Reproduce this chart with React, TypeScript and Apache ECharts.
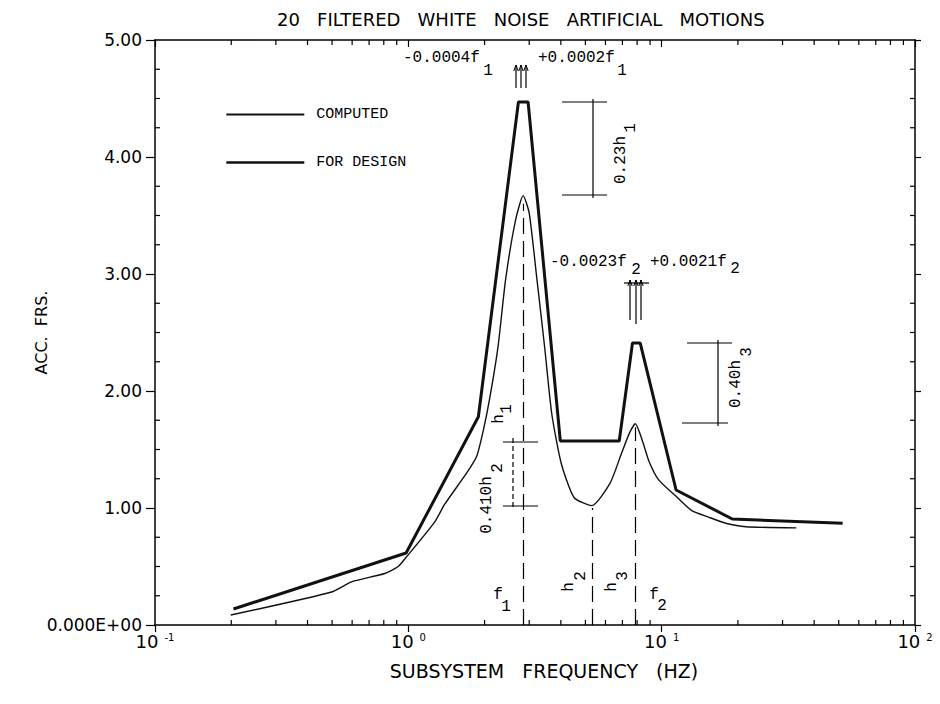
import React, { useEffect, useRef } from "react";
import * as echarts from "echarts";

// ---------- data ----------
const TITLE = "20   FILTERED   WHITE   NOISE   ARTIFICIAL   MOTIONS";
const X_NAME = "SUBSYSTEM   FREQUENCY   (HZ)";
const Y_NAME = "ACC.  FRS.";
const SERIES_NAMES = ["COMPUTED", "FOR DESIGN"];

const computedFreq = [0.199, 0.494, 0.6, 0.807, 0.912, 0.973, 1.27, 1.39, 1.7, 1.86, 1.98, 2.1, 2.26, 2.42, 2.65, 2.84, 3.0, 3.22, 3.45, 3.68, 4.01, 4.51, 5.3, 6.25, 6.95, 7.46, 7.87, 8.38, 8.91, 9.73, 11.4, 13.1, 15.4, 17.9, 21.5, 34.0];
const computedAcc = [0.085, 0.28, 0.37, 0.44, 0.5, 0.57, 0.88, 1.03, 1.3, 1.44, 1.67, 1.95, 2.38, 2.95, 3.46, 3.67, 3.52, 2.95, 2.38, 1.81, 1.385, 1.09, 1.02, 1.21, 1.47, 1.64, 1.72, 1.58, 1.4, 1.24, 1.1, 0.98, 0.92, 0.87, 0.84, 0.83];

const designFreq = [0.204, 0.98, 1.89, 2.72, 2.97, 3.98, 6.8, 7.67, 8.23, 11.4, 19.0, 51.8];
const designAcc = [0.137, 0.615, 1.78, 4.47, 4.47, 1.573, 1.573, 2.41, 2.41, 1.154, 0.906, 0.87];

// reference frequencies (dashed verticals)
const F1 = 2.84;
const F1_TOP = 3.6;
const H2 = 5.3;
const H2_TOP = 1.0;
const F2 = 7.87;
const F2_TOP = 1.69;

const X_MINOR = [0.2, 0.3, 0.4, 0.5, 0.6, 0.7, 0.8, 0.9, 2, 3, 4, 5, 6, 7, 8, 9, 20, 30, 40, 50, 60, 70, 80, 90];
const Y_MINOR = [0.25, 0.5, 0.75, 1.25, 1.5, 1.75, 2.25, 2.5, 2.75, 3.25, 3.5, 3.75, 4.25, 4.5, 4.75];
const X_EDGE = [0.1, 100];
const Y_EDGE = [0, 5];

// ---------- styling ----------
const SANS = "DejaVu Sans";
const MONO = '"Liberation Mono", "Courier New", monospace';
const ANN_FONT = `16px ${MONO}`;
const BLACK = "#000";

function label(text: string, x: number, y: number, align = "center", rotation = 0) {
  return {
    type: "text",
    x,
    y,
    rotation,
    silent: true,
    z: 100,
    style: {
      text,
      font: ANN_FONT,
      fill: BLACK,
      textAlign: align,
      textVerticalAlign: "middle",
      align,
      verticalAlign: "middle",
    },
  };
}
function seg(x1: number, y1: number, x2: number, y2: number, dash?: number[]) {
  return {
    type: "line",
    silent: true,
    z: 100,
    shape: { x1, y1, x2, y2 },
    style: { stroke: BLACK, lineWidth: 1.2, lineDash: dash },
  };
}
function arrowUp(x: number, yTop: number, yBottom: number) {
  return [
    seg(x, yTop, x, yBottom),
    {
      type: "polyline",
      silent: true,
      z: 100,
      shape: { points: [[x - 2.2, yTop + 6], [x, yTop], [x + 2.2, yTop + 6]] },
      style: { stroke: BLACK, lineWidth: 1, fill: null },
    },
  ];
}

const R = Math.PI / 2;
const annotations: any[] = [
  // f1 tolerance
  label("-0.0004f", 403, 58, "left"),
  label("1", 488, 71),
  label("+0.0002f", 538, 58, "left"),
  label("1", 622, 71),
  ...arrowUp(516, 65, 88),
  ...arrowUp(521, 65, 88),
  ...arrowUp(526, 65, 88),
  // f2 tolerance
  label("-0.0023f", 550, 262, "left"),
  label("2", 636, 270),
  label("+0.0021f", 650, 262, "left"),
  label("2", 735, 269),
  seg(624, 283, 649, 283),
  ...arrowUp(630, 280, 320),
  ...arrowUp(636, 280, 324),
  ...arrowUp(641, 280, 320),
  // bracket 0.23h1
  seg(562, 102, 607, 102),
  seg(562, 195, 607, 195),
  seg(593, 99, 593, 198),
  label("0.23h", 621, 160, "center", R),
  label("1", 631, 128, "center", R),
  // bracket 0.40h3
  seg(687, 343, 732, 343),
  seg(682, 423, 728, 423),
  seg(718, 340, 718, 426),
  label("0.40h", 736, 384, "center", R),
  label("3", 747, 352, "center", R),
  // bracket 0.410h2
  seg(503, 442, 538, 442),
  seg(503, 506, 538, 506),
  seg(513, 438, 513, 510, [5, 3]),
  label("0.410h", 487, 505, "center", R),
  label("2", 498, 468, "center", R),
  label("h", 499, 419, "center", R),
  label("1", 507, 409, "center", R),
  // bottom labels
  label("f", 498, 595),
  label("1", 506, 607),
  label("h", 569, 587, "center", R),
  label("2", 581, 576, "center", R),
  label("h", 612, 587, "center", R),
  label("3", 623, 576, "center", R),
  label("f", 654, 595),
  label("2", 662, 606),
];

const axisLine = { show: true, onZero: false, lineStyle: { color: BLACK, width: 1.5 } };

// minor ticks drawn through the axes' own scales
function tickSeries(data: number[][], dx: number, dy: number) {
  return {
    type: "custom",
    data,
    encode: { x: 0, y: 1 },
    clip: false,
    silent: true,
    z: 6,
    renderItem: (_params: any, api: any) => {
      const p = api.coord([api.value(0), api.value(1)]);
      return {
        type: "line",
        shape: { x1: p[0], y1: p[1], x2: p[0] + dx, y2: p[1] + dy },
        style: { stroke: BLACK, lineWidth: 1.2 },
      };
    },
  };
}

const option: any = {
  animation: false,
  backgroundColor: "#fff",
  title: {
    text: TITLE,
    left: 272,
    top: 5,
    textStyle: { fontFamily: SANS, fontSize: 18, fontWeight: "normal", color: BLACK },
  },
  legend: {
    data: [
      { name: SERIES_NAMES[0], lineStyle: { width: 2 } },
      { name: SERIES_NAMES[1], lineStyle: { width: 2.6 } },
    ],
    orient: "vertical",
    left: 220,
    top: 102,
    itemWidth: 78,
    itemHeight: 14,
    itemGap: 33,
    selectedMode: false,
    itemStyle: { color: "rgba(0,0,0,0)", borderColor: "rgba(0,0,0,0)", borderWidth: 0 },
    textStyle: { fontFamily: MONO, fontSize: 15, color: BLACK, padding: [0, 0, 0, 7] },
  },
  grid: { left: 155, right: 25, top: 40, bottom: 79 },
  xAxis: [
    {
      type: "log",
      logBase: 10,
      min: 0.1,
      max: 100,
      position: "bottom",
      axisLine,
      axisTick: { show: true, inside: false, length: 7, lineStyle: { color: BLACK, width: 1.2 } },
      splitLine: { show: false },
      axisLabel: {
        margin: 7,
        formatter: (v: number) => `{b|10}{s|${Math.round(Math.log10(v))}}`,
        rich: {
          b: { fontFamily: SANS, fontSize: 18, lineHeight: 18, color: BLACK, verticalAlign: "bottom" },
          s: { fontFamily: SANS, fontSize: 10, lineHeight: 10, color: BLACK, verticalAlign: "top", padding: [0, 0, 10, 6] },
        },
      },
      name: X_NAME,
      nameLocation: "middle",
      nameGap: 36,
      nameTextStyle: { fontFamily: SANS, fontSize: 19, color: BLACK, padding: [0, 0, 0, 18] },
    },
    {
      type: "log",
      logBase: 10,
      min: 0.1,
      max: 100,
      position: "top",
      axisLine,
      axisTick: { show: true, inside: true, length: 7, lineStyle: { color: BLACK, width: 1.2 } },
      axisLabel: { show: false },
      splitLine: { show: false },
    },
  ],
  yAxis: [
    {
      type: "value",
      min: 0,
      max: 5,
      interval: 1,
      position: "left",
      axisLine,
      axisTick: { show: true, inside: false, length: 9, lineStyle: { color: BLACK, width: 1.2 } },
      splitLine: { show: false },
      axisLabel: {
        margin: 13,
        fontFamily: SANS,
        fontSize: 17,
        color: BLACK,
        formatter: (v: number) => (v === 0 ? "0.000E+00" : v.toFixed(2)),
      },
      name: Y_NAME,
      nameLocation: "middle",
      nameGap: 106,
      nameMoveOverlap: false,
      nameRotate: 90,
      nameTextStyle: { fontFamily: SANS, fontSize: 16, color: BLACK },
    },
    {
      type: "value",
      min: 0,
      max: 5,
      interval: 1,
      position: "right",
      axisLine,
      axisTick: { show: true, inside: false, length: 6, lineStyle: { color: BLACK, width: 1.2 } },
      axisLabel: { show: false },
      splitLine: { show: false },
    },
  ],
  series: [
    {
      name: SERIES_NAMES[0],
      type: "line",
      data: computedFreq.map((f, i) => [f, computedAcc[i]]),
      symbol: "none",
      smooth: 0.2,
      lineStyle: { color: "#111", width: 1.4 },
      itemStyle: { color: "#111" },
      z: 3,
      markLine: {
        silent: true,
        symbol: ["none", "none"],
        label: { show: false },
        lineStyle: { color: BLACK, type: [16, 7], width: 1.2 },
        data: [
          [{ coord: [F1, 0] }, { coord: [F1, F1_TOP] }],
          [{ coord: [H2, 0] }, { coord: [H2, H2_TOP] }],
          [{ coord: [F2, 0] }, { coord: [F2, F2_TOP] }],
        ],
      },
    },
    {
      name: SERIES_NAMES[1],
      type: "line",
      data: designFreq.map((f, i) => [f, designAcc[i]]),
      symbol: "none",
      lineStyle: { color: "#111", width: 3 },
      itemStyle: { color: "#111" },
      z: 4,
    },
    tickSeries(X_MINOR.map((f) => [f, Y_EDGE[0]]), 0, -5),
    tickSeries(X_MINOR.map((f) => [f, Y_EDGE[1]]), 0, 5),
    tickSeries(Y_MINOR.map((v) => [X_EDGE[0], v]), 5, 0),
    tickSeries(Y_MINOR.map((v) => [X_EDGE[1], v]), -5, 0),
  ],
  graphic: { elements: annotations },
};

export default function App() {
  const ref = useRef<HTMLDivElement>(null);
  useEffect(() => {
    const chart = echarts.init(ref.current as HTMLDivElement, null, { renderer: "svg" });
    chart.setOption(option);
    return () => chart.dispose();
  }, []);
  return (
    <div
      ref={ref}
      style={{ position: "absolute", left: 0, top: 0, width: 940, height: 704, background: "#fff" }}
    />
  );
}
